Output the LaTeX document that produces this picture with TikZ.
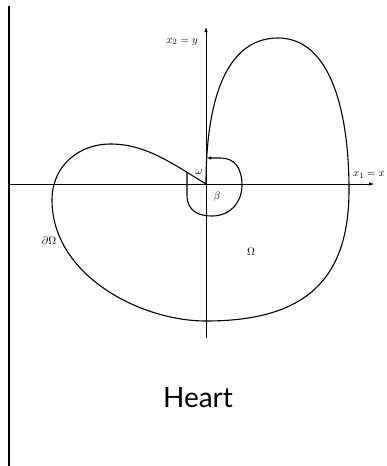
\documentclass[tikz,border=0pt]{standalone}
\usepackage{fontspec}
\setsansfont{Lato}
\usetikzlibrary{arrows.meta}
\begin{document}
\begin{tikzpicture}[x=1pt,y=-1pt,
  axis/.style={line width=0.6pt,-{Latex[length=5pt,width=3.5pt]}},
  curve/.style={line width=1.1pt},
  lbl/.style={inner sep=0pt,font=\fontsize{11}{13}\selectfont},
  title/.style={inner sep=0pt,font=\sffamily\fontsize{28}{32}\selectfont}]
\useasboundingbox (0,0) rectangle (387,466);
% left bar
\coordinate (bt) at (9,6);
\coordinate (bb) at (9,466);
\draw[line width=2pt] (bt) -- (bb);
% axes
\coordinate (O) at (206,184);
\coordinate (xa) at (10,184);
\coordinate (xb) at (374,184);
\coordinate (ya) at (206,338);
\coordinate (yb) at (206,27);
\draw[axis] (xa) -- (xb);
\draw[axis] (ya) -- (yb);
% heart
\coordinate (top) at (278,38);
\coordinate (rgt) at (349,190);
\coordinate (bot) at (206,321);
\coordinate (lft) at (52,200);
\coordinate (ltop) at (110,144);
\draw[curve] (O) .. controls (206,110) and (222,38) .. (top)
  .. controls (330,38) and (349,110) .. (rgt)
  .. controls (349,280) and (305,321) .. (bot)
  .. controls (140,321) and (52,275) .. (lft)
  .. controls (52,165) and (80,144) .. (ltop)
  .. controls (145,144) and (170,162) .. (O);
% angle loop
\coordinate (ls) at (187,172);
\coordinate (le) at (207,158);
\draw[curve,-{Latex[length=4pt,width=3.5pt]}] (ls) -- (187,195)
  .. controls (187,212) and (200,216) .. (212,216)
  .. controls (232,216) and (242,200) .. (242,186)
  .. controls (242,168) and (235,158) .. (220,158) -- (le);
% labels
\node[lbl,anchor=east] (lx2) at (198,42) {$x_2=y$};
\node[lbl] (lx1) at (369,175) {$x_1=x$};
\node[lbl] (lw) at (199,172) {$\omega$};
\node[lbl] (lb) at (217,197) {$\beta$};
\node[lbl] (ld) at (49,241) {$\partial\Omega$};
\node[lbl] (lO) at (251,252) {$\Omega$};
\node[title] (tt) at (198,398) {Heart};
\end{tikzpicture}
\end{document}
